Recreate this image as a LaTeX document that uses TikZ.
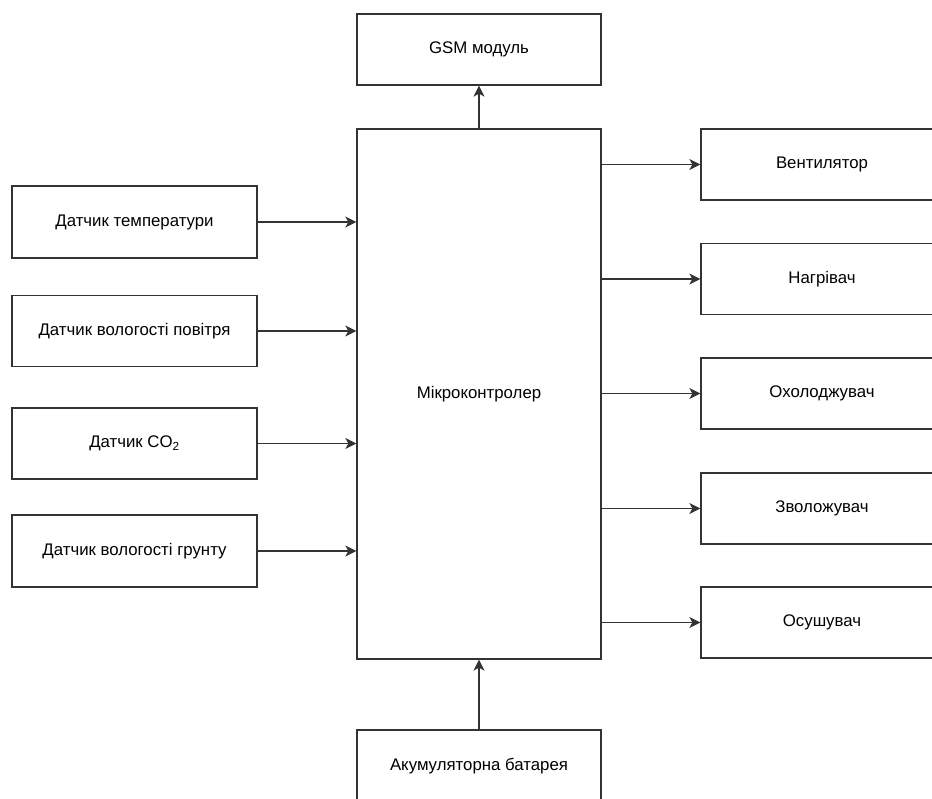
\documentclass[tikz,border=0pt]{standalone}
\usepackage{fontspec}
\setmainfont{Liberation Sans}
\usetikzlibrary{arrows.meta}
\definecolor{ln}{HTML}{333333}
\tikzset{
  box/.style={draw=ln, line width=1.3pt, fill=white, rectangle, inner sep=0pt,
    font=\fontsize{16.8}{19}\selectfont, text=black},
  conn/.style={draw=ln, line width=1.3pt, -{Stealth[length=11pt,width=11pt,inset=3pt]}},
}
\begin{document}
\begin{tikzpicture}[x=1pt,y=-1pt]
\useasboundingbox (0,0) rectangle (932,799);
\clip (0,0) rectangle (932,799);
\fill[white] (0,0) rectangle (932,799);
% centre
\node[box, minimum width=244pt, minimum height=530pt] (m) at (479,394) {Мікроконтролер};
\node[box, minimum width=244pt, minimum height=71pt] (gsm) at (479,49.5) {GSM модуль};
\node[box, minimum width=244pt, minimum height=72pt] (bat) at (479,766) {Акумуляторна батарея};
% left
\node[box, minimum width=245pt, minimum height=72pt] (s1) at (134.5,222) {Датчик температури};
\node[box, minimum width=245pt, minimum height=71pt] (s2) at (134.5,331) {Датчик вологості повітря};
\node[box, minimum width=245pt, minimum height=71pt] (s3) at (134.5,443.5) {Датчик CO\textsubscript{2}};
\node[box, minimum width=245pt, minimum height=72pt] (s4) at (134.5,551) {Датчик вологості грунту};
% right
\node[box, minimum width=242pt, minimum height=71pt] (r1) at (822,164.5) {Вентилятор};
\node[box, minimum width=242pt, minimum height=71pt] (r2) at (822,279) {Нагрівач};
\node[box, minimum width=242pt, minimum height=71pt] (r3) at (822,393.5) {Охолоджувач};
\node[box, minimum width=242pt, minimum height=71pt] (r4) at (822,508.5) {Зволожувач};
\node[box, minimum width=242pt, minimum height=71pt] (r5) at (822,622.5) {Осушувач};
% connectors
\foreach \s in {s1,s2,s3,s4}
  \draw[conn] (\s.east) -- (\s.east -| m.west);
\foreach \r in {r1,r2,r3,r4,r5}
  \draw[conn] (\r.west -| m.east) -- (\r.west);
\draw[conn] (m.north) -- (gsm.south);
\draw[conn] (bat.north) -- (m.south);
\end{tikzpicture}
\end{document}
